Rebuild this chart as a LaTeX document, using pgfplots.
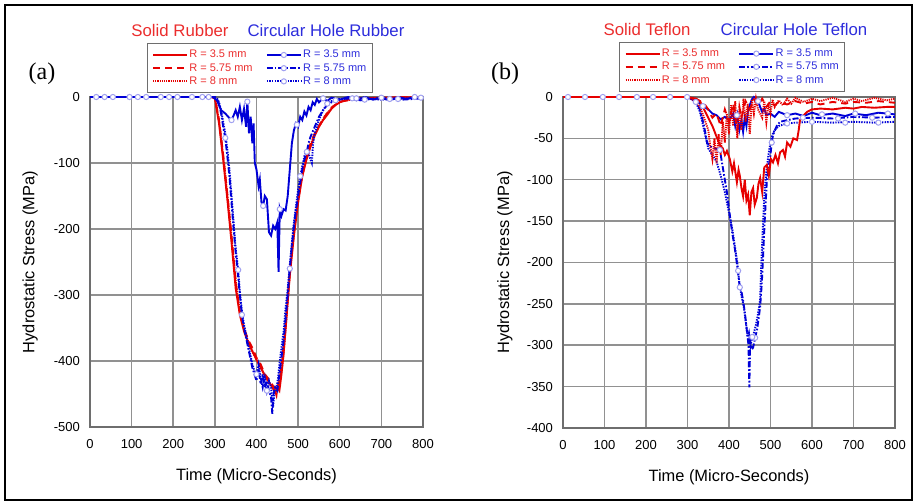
\documentclass[border=0pt]{standalone}
\usepackage{pgfplots}
\pgfplotsset{compat=1.18}
\usepackage{fontspec}
\setmainfont{Liberation Sans}
\newfontfamily\seriffont{Liberation Serif}

\definecolor{redc}{RGB}{230,0,0}
\definecolor{bluec}{RGB}{0,0,215}
\definecolor{redt}{RGB}{235,45,45}
\definecolor{bluet}{RGB}{45,45,220}
\definecolor{gridc}{RGB}{145,145,145}
\definecolor{boxc}{RGB}{110,110,110}
\definecolor{markc}{RGB}{160,160,240}

\pgfplotsset{
  panel/.style={
    scale only axis,
    xmin=0, xmax=800, xtick={0,100,...,800},
    grid=major, major grid style={gridc, line width=0.75pt},
    axis line style={boxc, line width=0.75pt},
    major tick length=0pt,
    tick label style={font=\fontsize{6.5}{7}\selectfont},
    /pgf/number format/assume math mode=true,
    /pgf/number format/set thousands separator={},
    xticklabel style={yshift=-2.5pt},
    yticklabel style={xshift=-1.5pt},
    label style={font=\fontsize{8.2}{9}\selectfont},
    xlabel={Time (Micro-Seconds)},
    ylabel={Hydrostatic Stress (MPa)},
    xlabel style={at={(axis description cs:0.5,-0.148)}, anchor=center},
    ylabel style={at={(axis description cs:-0.18,0.5)}, anchor=center},
    clip=false,
    legend columns=2,
    legend style={draw=boxc, line width=0.6pt, font=\fontsize{5.5}{6}\selectfont,
      anchor=south, cells={anchor=west}, inner sep=2.4pt, row sep=0pt,
      nodes={inner sep=0.6pt, text height=4.2pt, text depth=1.2pt},
      /tikz/every even column/.append style={column sep=6pt}},
  },
  r1/.style={redc, line width=0.95pt, solid},
  r2/.style={redc, line width=0.95pt, dash pattern=on 3.5pt off 2.5pt},
  r3/.style={redc, line width=0.95pt, dash pattern=on 0.6pt off 0.5pt},
  b1/.style={bluec, line width=0.95pt, solid},
  b2/.style={bluec, line width=0.95pt, dash pattern=on 3pt off 1pt on 0.8pt off 1pt},
  b3/.style={bluec, line width=0.95pt, dash pattern=on 0.7pt off 0.6pt},
  lm/.style={mark=*, mark size=1.3pt, mark options={solid, draw=markc, fill=white, line width=0.5pt}},
  mk/.style={only marks, mark=*, mark size=1.3pt, mark options={solid, draw=markc, fill=white, line width=0.5pt}},
}

\newcommand{\legendsix}{%
  \addlegendimage{r1}\addlegendentry{\textcolor{redt}{R = 3.5 mm}}
  \addlegendimage{b1,lm}\addlegendentry{\textcolor{bluet}{R = 3.5 mm}}
  \addlegendimage{r2}\addlegendentry{\textcolor{redt}{R = 5.75 mm}}
  \addlegendimage{b2,lm}\addlegendentry{\textcolor{bluet}{R = 5.75 mm}}
  \addlegendimage{r3}\addlegendentry{\textcolor{redt}{R = 8 mm}}
  \addlegendimage{b3,lm}\addlegendentry{\textcolor{bluet}{R = 8 mm}}
}

\begin{document}
\begin{tikzpicture}
\useasboundingbox (0,0) rectangle (459.5pt,250.5pt);
\draw[line width=1pt] (2.5pt,0.5pt) rectangle (456pt,248pt);

% titles and panel letters
\node[anchor=base, text=redt, font=\fontsize{8.4}{10}\selectfont] at (90pt,232pt) {Solid Rubber};
\node[anchor=base, text=bluet, font=\fontsize{8.4}{10}\selectfont] at (163pt,232pt) {Circular Hole Rubber};
\node[anchor=base, text=redt, font=\fontsize{8.4}{10}\selectfont] at (323.5pt,232.5pt) {Solid Teflon};
\node[anchor=base, text=bluet, font=\fontsize{8.4}{10}\selectfont] at (397pt,232.5pt) {Circular Hole Teflon};
\node[anchor=base, font=\seriffont\fontsize{12}{14}\selectfont] at (21pt,210.5pt) {(a)};
\node[anchor=base, font=\seriffont\fontsize{12}{14}\selectfont] at (252.5pt,210.5pt) {(b)};

% ---------------- panel (a): rubber ----------------
\begin{axis}[panel, at={(45pt,37pt)}, anchor=south west,
  width=166.5pt, height=165pt,
  ymin=-500, ymax=0, ytick={-500,-400,...,0},
  legend style={at={(0.51,1.011)}}]
\legendsix
% solid rubber
\addplot[r1, forget plot] coordinates {
(0,0)(100,0)(200,0)(290,0)(300,-2)(310,-40)(320,-95)(330,-155)(340,-220)(350,-290)
(360,-330)(370,-355)(380,-372)(390,-385)(400,-398)(410,-410)(420,-422)(430,-432)
(440,-442)(445,-448)(450,-440)(455,-445)(460,-420)(465,-390)(470,-350)(475,-310)
(480,-270)(490,-210)(500,-160)(510,-120)(520,-95)(530,-75)(540,-58)(550,-45)(560,-35)
(570,-27)(580,-18)(590,-12)(600,-8)(620,-4)(650,-2)(700,-1)(800,0)};
\addplot[r2, forget plot] coordinates {
(0,0)(100,0)(200,0)(295,0)(300,-1)(310,-35)(320,-88)(330,-148)(340,-210)(350,-280)
(360,-326)(370,-350)(380,-368)(390,-380)(400,-395)(410,-405)(420,-420)(430,-428)
(440,-438)(450,-445)(455,-430)(460,-410)(470,-345)(480,-265)(490,-205)(500,-155)
(510,-118)(520,-90)(530,-70)(540,-55)(560,-33)(580,-16)(600,-7)(650,-2)(800,0)};
\addplot[r3, forget plot] coordinates {
(0,0)(100,0)(200,0)(295,0)(302,-5)(312,-45)(322,-100)(332,-160)(342,-225)(352,-290)
(362,-332)(372,-356)(382,-374)(392,-388)(402,-400)(412,-412)(422,-425)(432,-434)
(442,-440)(448,-452)(452,-435)(458,-425)(464,-395)(470,-352)(478,-285)(486,-225)
(495,-175)(505,-135)(515,-105)(525,-82)(535,-64)(550,-45)(565,-28)(585,-14)(605,-6)
(650,-2)(700,-3)(800,-1)};
% circular hole rubber
\addplot[b1, forget plot] coordinates {
(0,0)(100,0)(200,0)(295,0)(305,-5)(315,-20)(325,-25)(335,-32)(340,-35)(345,-28)
(350,-20)(355,-30)(360,-15)(365,-35)(370,-18)(375,-45)(378,-7)(382,-55)(386,-30)
(390,-70)(393,-40)(396,-100)(400,-110)(405,-135)(408,-125)(412,-160)(416,-165)
(420,-150)(425,-155)(430,-205)(435,-210)(440,-195)(445,-200)(450,-190)(453,-265)
(456,-170)(460,-180)(465,-170)(470,-172)(475,-150)(480,-110)(485,-70)(490,-50)
(495,-40)(500,-45)(505,-30)(510,-35)(515,-22)(520,-28)(525,-15)(530,-20)(535,-8)
(540,-12)(545,-3)(550,-8)(560,-2)(570,-6)(580,-1)(600,-4)(620,0)(640,-5)(660,0)
(680,-4)(700,-1)(720,-5)(740,0)(760,-3)(780,0)(800,-2)};
\addplot[b2, forget plot] coordinates {
(0,0)(100,0)(200,0)(300,0)(305,-3)(310,-10)(315,-25)(320,-45)(325,-62)(330,-90)
(335,-120)(340,-160)(345,-200)(350,-235)(355,-265)(360,-300)(365,-330)(370,-350)
(375,-365)(380,-380)(385,-395)(390,-410)(395,-420)(400,-430)(405,-412)(410,-435)
(415,-420)(420,-440)(425,-430)(430,-445)(435,-455)(438,-480)(441,-450)(445,-440)
(450,-445)(455,-420)(460,-395)(465,-370)(470,-335)(475,-300)(480,-260)(485,-225)
(490,-195)(495,-170)(500,-150)(505,-130)(510,-110)(515,-95)(521,-83)(525,-70)
(530,-60)(540,-45)(550,-30)(560,-20)(570,-12)(580,-8)(590,-5)(600,-4)(620,-2)
(650,-5)(700,-1)(750,-4)(800,-2)};
\addplot[b3, forget plot] coordinates {
(0,0)(100,0)(200,0)(300,0)(305,-2)(310,-8)(315,-20)(320,-38)(325,-55)(330,-80)
(335,-110)(340,-150)(345,-190)(350,-230)(356,-262)(360,-295)(365,-325)(370,-345)
(375,-360)(380,-375)(385,-390)(390,-405)(395,-415)(400,-420)(405,-405)(410,-425)
(415,-440)(420,-425)(425,-445)(430,-430)(435,-440)(440,-470)(443,-445)(448,-440)
(452,-425)(456,-400)(460,-380)(465,-355)(470,-320)(475,-290)(480,-255)(485,-220)
(490,-190)(495,-165)(500,-140)(505,-120)(510,-105)(515,-90)(520,-80)(525,-85)
(530,-95)(533,-100)(536,-70)(540,-55)(550,-35)(560,-20)(570,-10)(580,-6)(600,-3)
(650,-2)(700,-4)(800,-1)};
% circle markers of the hole series
\addplot[mk, forget plot] coordinates {
(15,0)(95,0)(170,0)(245,0)(340,-35)(378,-7)(416,-165)(456,-170)(497,-42)(560,-2)
(630,-2)(700,-1)(780,0)};
\addplot[mk, forget plot] coordinates {
(35,0)(115,0)(190,0)(270,0)(325,-62)(365,-330)(480,-260)(521,-83)(590,-5)(660,-4)(740,-3)};
\addplot[mk, forget plot] coordinates {
(55,0)(135,0)(210,0)(285,0)(356,-262)(400,-420)(425,-445)(505,-120)(570,-10)(640,-2)
(720,-3)(795,-1)};
\end{axis}

% ---------------- panel (b): teflon ----------------
\begin{axis}[panel, at={(281.5pt,36.5pt)}, anchor=south west,
  width=166pt, height=165.5pt,
  ymin=-400, ymax=0, ytick={-400,-350,...,0},
  ylabel style={at={(axis description cs:-0.175,0.5)}},
  legend style={at={(0.51,1.015)}}]
\legendsix
% circular hole teflon
\addplot[b1, forget plot] coordinates {
(0,0)(100,0)(200,0)(300,0)(320,-3)(330,-8)(340,-12)(350,-15)(360,-20)(370,-22)
(380,-27)(390,-24)(400,-28)(410,-20)(415,-35)(420,-22)(425,-40)(430,-28)(434,-42)
(438,-25)(442,-35)(446,-15)(450,-10)(455,-3)(460,0)(465,-2)(470,-5)(475,-12)
(480,-18)(485,-14)(490,-22)(500,-20)(510,-24)(520,-18)(540,-22)(560,-20)(580,-23)
(600,-19)(620,-22)(650,-20)(680,-23)(700,-20)(730,-22)(760,-19)(800,-21)};
\addplot[b2, forget plot] coordinates {
(0,0)(100,0)(200,0)(300,0)(320,-5)(330,-15)(340,-35)(347,-55)(355,-60)(365,-62)
(378,-64)(385,-85)(390,-100)(395,-115)(402,-143)(408,-165)(414,-183)(420,-205)
(426,-230)(430,-235)(434,-246)(438,-260)(443,-282)(447,-300)(449,-351)(451,-295)
(455,-305)(458,-303)(463,-291)(468,-280)(472,-265)(475,-254)(479,-225)(482,-194)
(486,-150)(491,-103)(495,-85)(499,-74)(503,-55)(506,-46)(515,-35)(523,-30)(540,-28)
(560,-26)(600,-25)(650,-26)(700,-24)(750,-25)(800,-24)};
\addplot[b3, forget plot] coordinates {
(0,0)(100,0)(200,0)(300,0)(320,-6)(330,-18)(340,-40)(350,-62)(360,-70)(370,-78)
(380,-95)(390,-115)(400,-140)(408,-160)(414,-180)(420,-200)(425,-225)(430,-240)
(436,-255)(440,-270)(445,-290)(448,-285)(452,-300)(456,-290)(460,-285)(465,-275)
(470,-262)(475,-245)(478,-200)(481,-165)(485,-120)(490,-90)(495,-70)(500,-55)
(505,-45)(510,-40)(520,-35)(540,-32)(560,-31)(600,-30)(650,-31)(700,-30)(750,-31)
(800,-30)};
% solid teflon
\addplot[r1, forget plot] coordinates {
(0,0)(100,0)(200,0)(300,0)(320,-2)(330,-5)(340,-15)(350,-25)(360,-35)(370,-48)
(378,-58)(385,-62)(390,-70)(395,-65)(402,-75)(408,-90)(412,-80)(419,-103)(423,-88)
(426,-95)(430,-110)(434,-120)(438,-100)(442,-125)(446,-118)(450,-143)(454,-115)
(458,-110)(462,-130)(467,-122)(471,-105)(475,-98)(480,-115)(485,-85)(491,-82)
(496,-95)(501,-75)(506,-79)(512,-70)(518,-80)(523,-67)(530,-64)(535,-72)(540,-55)
(548,-60)(555,-50)(564,-52)(568,-40)(571,-28)(580,-22)(588,-18)(600,-15)(620,-14)
(650,-15)(680,-13)(700,-14)(720,-12)(750,-13)(780,-12)(800,-12)};
\addplot[r2, forget plot] coordinates {
(0,0)(100,0)(200,0)(300,0)(320,-2)(340,-8)(350,-15)(360,-25)(370,-20)(380,-35)
(390,-15)(400,-30)(410,-8)(420,-40)(425,-12)(430,-25)(440,-5)(450,-15)(460,-3)
(470,-10)(480,-2)(490,-12)(500,-5)(510,-10)(520,-6)(540,-9)(560,-5)(580,-8)(600,-6)
(620,-9)(650,-6)(680,-8)(700,-6)(730,-7)(760,-5)(800,-7)};
\addplot[r3, forget plot] coordinates {
(0,0)(100,0)(200,0)(300,0)(320,-5)(330,-12)(340,-25)(350,-40)(355,-60)(360,-75)
(365,-50)(370,-80)(375,-45)(380,-70)(385,-30)(390,-55)(395,-20)(400,-45)(405,-10)
(410,-35)(415,-5)(420,-50)(425,-15)(430,-40)(435,-2)(440,-30)(445,-8)(450,-45)
(455,-3)(460,-20)(465,-2)(470,-15)(480,-25)(485,-5)(490,-30)(495,-8)(500,-20)
(505,-3)(510,-12)(520,-4)(530,-10)(540,-2)(550,-8)(560,-1)(580,-6)(600,-2)(620,-5)
(650,-1)(680,-6)(700,-2)(720,-5)(750,-1)(780,-4)(800,-2)};
% circle markers of the hole series
\addplot[mk, forget plot] coordinates {
(12,0)(135,0)(258,0)(337,-11)(419,-22)(470,-5)(540,-22)(624,-21)(704,-20)(783,-20)};
\addplot[mk, forget plot] coordinates {
(53,0)(178,0)(299,0)(378,-64)(426,-230)(463,-291)(503,-55)(578,-25)(663,-26)(745,-25)};
\addplot[mk, forget plot] coordinates {
(96,0)(217,0)(320,-6)(422,-210)(456,-290)(540,-32)(600,-30)(680,-31)(760,-31)};
\end{axis}
\end{tikzpicture}
\end{document}
